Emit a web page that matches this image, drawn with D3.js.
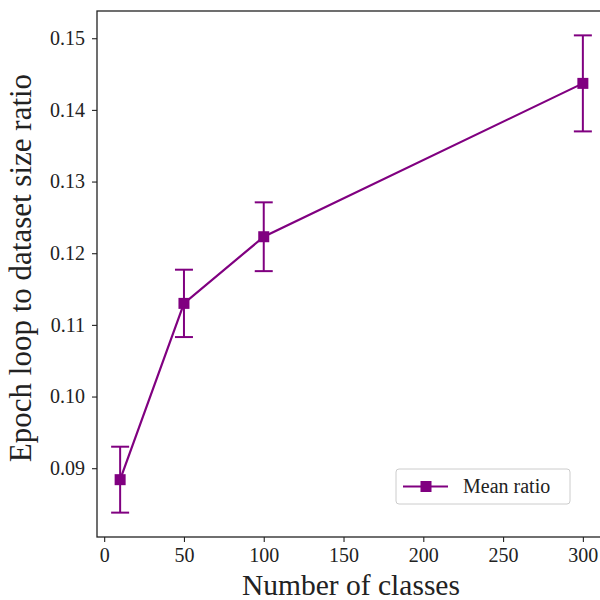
<!DOCTYPE html>
<html><head><meta charset="utf-8">
<script src="https://cdn.jsdelivr.net/npm/d3@7"></script>
<style>body{margin:0;background:#fff}svg{display:block}</style>
</head><body>
<svg id="c" width="600" height="600"></svg>
<script>
const classes = [10, 50, 100, 300];
const meanRatio = [0.0884, 0.1130, 0.1223, 0.1437];
const errRatio = [0.0046, 0.0047, 0.0048, 0.0067];
const xTicks = [0, 50, 100, 150, 200, 250, 300];
const yTicks = [0.09, 0.10, 0.11, 0.12, 0.13, 0.14, 0.15];
const seriesName = "Mean ratio";
const color = "#800080";
const font = "'Liberation Serif', 'DejaVu Serif', serif";

const svg = d3.select("#c");
const L = 97, T = 11, B = 537;
const x = d3.scaleLinear().domain([-4.5, 314.5]).range([L, 606]);
const y = d3.scaleLinear().domain([0.0804, 0.1538]).range([B, T]);

// frame
svg.append("rect").attr("x", L).attr("y", T).attr("width", 606 - L).attr("height", B - T)
  .attr("fill", "none").attr("stroke", "#222").attr("stroke-width", 1.3);

const xa = svg.append("g").attr("transform", `translate(0,${B})`)
  .call(d3.axisBottom(x).tickValues(xTicks).tickFormat(d3.format("d")).tickSizeOuter(0).tickSize(5).tickPadding(6));
const ya = svg.append("g").attr("transform", `translate(${L},0)`)
  .call(d3.axisLeft(y).tickValues(yTicks).tickFormat(d3.format(".2f")).tickSizeOuter(0).tickSize(5).tickPadding(7));
[xa, ya].forEach(a => {
  a.select(".domain").remove();
  a.selectAll(".tick line").attr("stroke", "#222").attr("stroke-width", 1.1);
  a.selectAll("text").attr("font-family", font).attr("font-size", 20).attr("fill", "#222");
});

svg.append("text").attr("x", 351).attr("y", 595).attr("text-anchor", "middle")
  .attr("font-family", font).attr("font-size", 29.5).attr("fill", "#222").text("Number of classes");
svg.append("text").attr("transform", `translate(31,268) rotate(-90)`).attr("text-anchor", "middle")
  .attr("font-family", font).attr("font-size", 31).attr("fill", "#222").text("Epoch loop to dataset size ratio");

const data = classes.map((c, i) => ({c, m: meanRatio[i], e: errRatio[i]}));
const g = svg.append("g");
// error bars
data.forEach(d => {
  g.append("line").attr("x1", x(d.c)).attr("x2", x(d.c)).attr("y1", y(d.m - d.e)).attr("y2", y(d.m + d.e))
    .attr("stroke", color).attr("stroke-width", 2);
  [d.m - d.e, d.m + d.e].forEach(v => g.append("line").attr("x1", x(d.c) - 9).attr("x2", x(d.c) + 9)
    .attr("y1", y(v)).attr("y2", y(v)).attr("stroke", color).attr("stroke-width", 2));
});
g.append("path").datum(data).attr("fill", "none").attr("stroke", color).attr("stroke-width", 2.2)
  .attr("d", d3.line().x(d => x(d.c)).y(d => y(d.m)));
g.selectAll("rect.m").data(data).join("rect").attr("class", "m")
  .attr("x", d => x(d.c) - 5.5).attr("y", d => y(d.m) - 5.5).attr("width", 11).attr("height", 11).attr("fill", color);

// legend
const lg = svg.append("g").attr("transform", "translate(396,469)");
lg.append("rect").attr("width", 174).attr("height", 35).attr("rx", 3).attr("fill", "#fff")
  .attr("stroke", "#ccc").attr("stroke-width", 1);
lg.append("line").attr("x1", 7).attr("x2", 52).attr("y1", 17.5).attr("y2", 17.5).attr("stroke", color).attr("stroke-width", 2.2);
lg.append("rect").attr("x", 24.5).attr("y", 12).attr("width", 11).attr("height", 11).attr("fill", color);
lg.append("text").attr("x", 67).attr("y", 24).attr("font-family", font).attr("font-size", 20).attr("fill", "#222").text(seriesName);
</script>
</body></html>
